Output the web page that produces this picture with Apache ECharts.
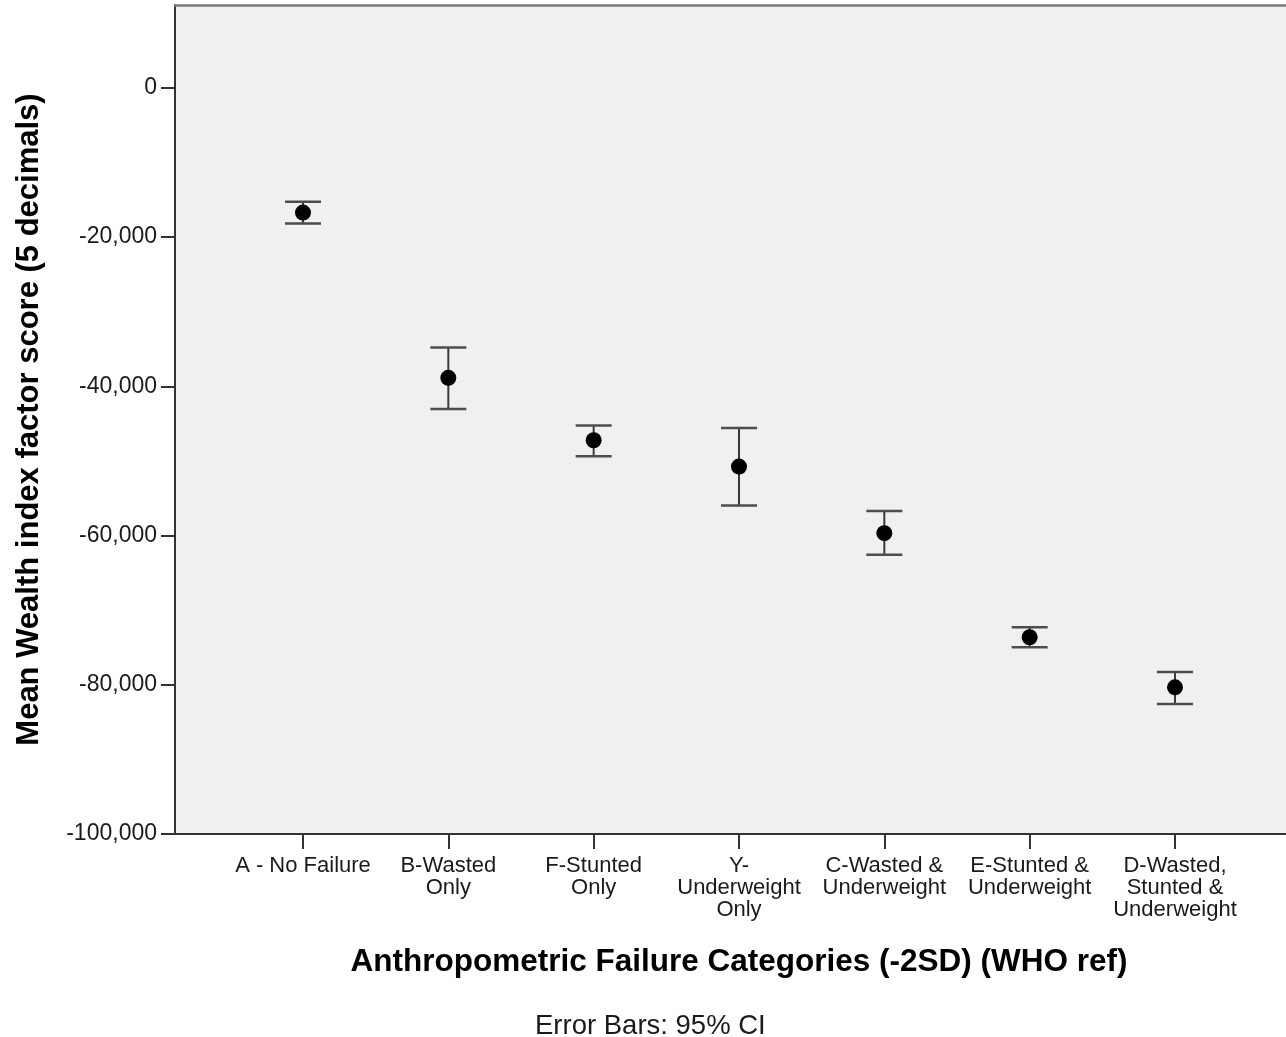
<!DOCTYPE html>
<html>
<head>
<meta charset="utf-8">
<script src="https://cdn.jsdelivr.net/npm/echarts@6/dist/echarts.min.js"></script>
<style>
  html, body { margin: 0; padding: 0; background: #ffffff; }
  #chart { width: 1286px; height: 1037px; }
</style>
</head>
<body>
<div id="chart"></div>
<script>
// ---- Data ----
const categories = [
  'A - No Failure',
  'B-Wasted\nOnly',
  'F-Stunted\nOnly',
  'Y-\nUnderweight\nOnly',
  'C-Wasted &\nUnderweight',
  'E-Stunted &\nUnderweight',
  'D-Wasted,\nStunted &\nUnderweight'
];
const means   = [-16720, -38870, -47230, -50760, -59690, -73630, -80340];
const ciUpper = [-15280, -34810, -45270, -45580, -56700, -72290, -78280];
const ciLower = [-18190, -43030, -49370, -55990, -62560, -74970, -82570];
const yTickValues = [-100000, -80000, -60000, -40000, -20000, 0];
const yMin = -100000;
const yMax = 11100;

const FONT = '"Liberation Sans", Arial, sans-serif';

const chart = echarts.init(document.getElementById('chart'), null, { renderer: 'canvas' });

const errorData = categories.map((c, i) => [i, ciLower[i], ciUpper[i]]);

const option = {
  animation: false,
  backgroundColor: '#ffffff',
  textStyle: { fontFamily: FONT },
  grid: [
    { // plot frame with background and y axis
      left: 175, top: 5, width: 1128, height: 829,
      show: true, backgroundColor: '#f0f0f0',
      borderWidth: 0, borderColor: 'transparent'
    },
    { // category layout
      left: 230.33, top: 5, width: 1017.33, height: 829
    }
  ],
  xAxis: [
    {
      type: 'value', gridIndex: 0, min: 0, max: 1, position: 'bottom',
      axisLine: { show: true, onZero: false, lineStyle: { color: '#333333', width: 2 } },
      axisTick: { show: false }, axisLabel: { show: false }, splitLine: { show: false }
    },
    {
      type: 'value', gridIndex: 0, min: 0, max: 1, position: 'top',
      axisLine: { show: true, onZero: false, lineStyle: { color: '#7a7a7a', width: 2.5 } },
      axisTick: { show: false }, axisLabel: { show: false }, splitLine: { show: false }
    },
    {
      type: 'category', gridIndex: 1, data: categories, boundaryGap: true, position: 'bottom',
      axisLine: { show: false, onZero: false },
      axisTick: { show: true, alignWithLabel: true, length: 15,
                  lineStyle: { color: '#333333', width: 2 } },
      axisLabel: { interval: 0, fontSize: 22, lineHeight: 22, color: '#1a1a1a',
                   margin: 21, fontFamily: FONT },
      splitLine: { show: false },
      name: 'Anthropometric Failure Categories (-2SD) (WHO ref)',
      nameLocation: 'middle', nameGap: 112,
      nameTextStyle: { fontSize: 31.5, fontWeight: 'bold', color: '#000000', fontFamily: FONT }
    }
  ],
  yAxis: [
    {
      type: 'value', gridIndex: 0, min: yMin, max: yMax,
      axisLine: { show: true, onZero: false, lineStyle: { color: '#333333', width: 2 } },
      axisTick: { show: true, length: 14, customValues: yTickValues,
                  lineStyle: { color: '#333333', width: 2 } },
      axisLabel: { show: true, customValues: yTickValues, fontSize: 23, color: '#1a1a1a',
                   margin: 18, fontFamily: FONT,
                   formatter: v => Number(v).toLocaleString('en-US') },
      splitLine: { show: false },
      name: 'Mean Wealth index factor score (5 decimals)',
      nameLocation: 'middle', nameGap: 130, nameRotate: 90,
      nameTextStyle: { fontSize: 31, fontWeight: 'bold', color: '#000000', fontFamily: FONT }
    },
    {
      type: 'value', gridIndex: 1, min: yMin, max: yMax, show: false
    }
  ],
  series: [
    {
      type: 'custom', xAxisIndex: 2, yAxisIndex: 1, z: 3,
      data: errorData,
      renderItem: function (params, api) {
        const x = api.value(0);
        const lo = api.coord([x, api.value(1)]);
        const hi = api.coord([x, api.value(2)]);
        const half = 18;
        const style = { stroke: '#4d4d4d', lineWidth: 2.5 };
        return {
          type: 'group',
          children: [
            { type: 'line', shape: { x1: lo[0], y1: lo[1], x2: hi[0], y2: hi[1] },
              style: { stroke: '#3a3a3a', lineWidth: 2 } },
            { type: 'line', shape: { x1: hi[0] - half, y1: hi[1], x2: hi[0] + half, y2: hi[1] }, style: style },
            { type: 'line', shape: { x1: lo[0] - half, y1: lo[1], x2: lo[0] + half, y2: lo[1] }, style: style }
          ]
        };
      }
    },
    {
      type: 'scatter', xAxisIndex: 2, yAxisIndex: 1, z: 5,
      data: means,
      symbol: 'circle', symbolSize: 16,
      itemStyle: { color: '#000000', opacity: 1 }
    }
  ],
  graphic: [
    {
      type: 'text', left: 535, top: 1012,
      style: { text: 'Error Bars: 95% CI', fontSize: 27.5, fill: '#1a1a1a', fontFamily: FONT }
    }
  ]
};

chart.setOption(option);
</script>
</body>
</html>
